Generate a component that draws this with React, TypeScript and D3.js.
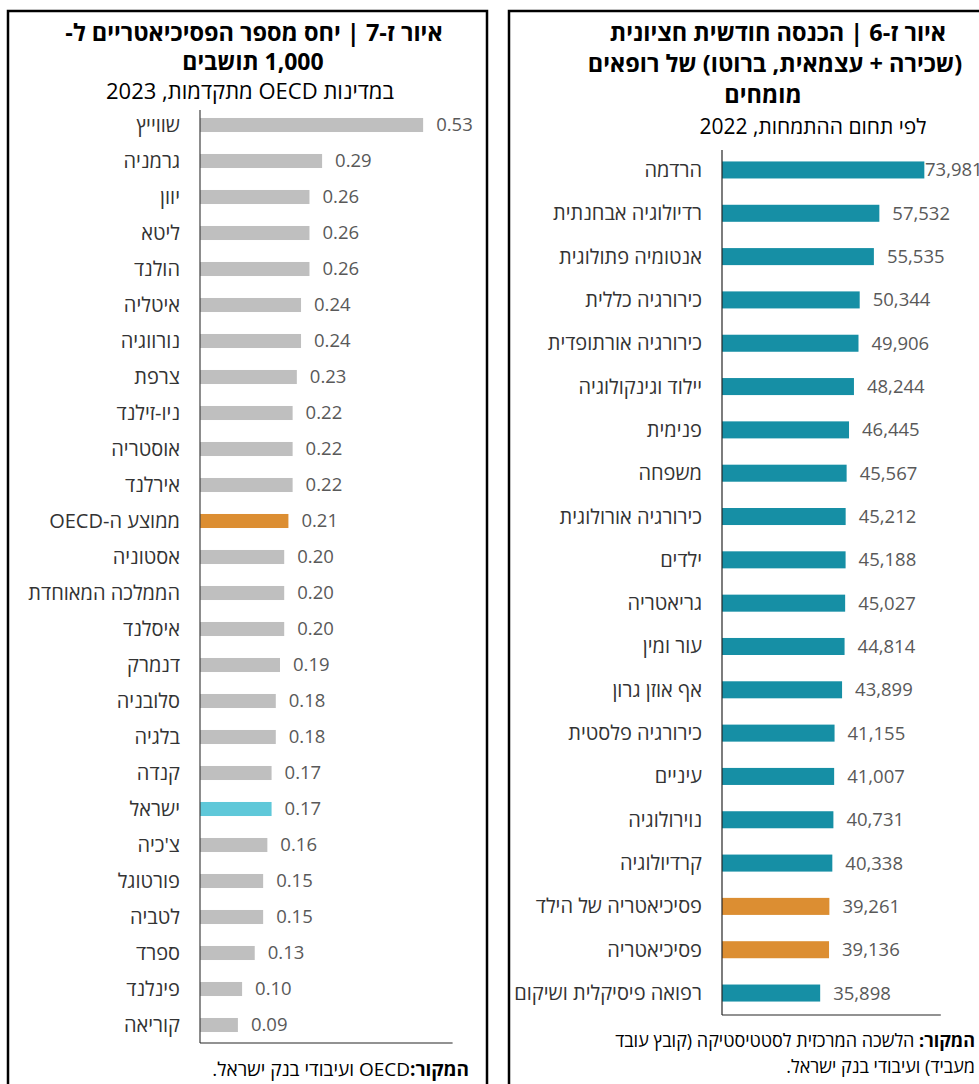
import React from "react";
import * as d3 from "d3";

// ---------- Data: Figure ז-7 (psychiatrists per 1,000 residents, OECD 2023)
const countries = [
  "שווייץ", "גרמניה", "יוון", "ליטא", "הולנד", "איטליה", "נורווגיה", "צרפת",
  "ניו-זילנד", "אוסטריה", "אירלנד", "ממוצע ה-OECD", "אסטוניה", "הממלכה המאוחדת",
  "איסלנד", "דנמרק", "סלובניה", "בלגיה", "קנדה", "ישראל", "צ'כיה", "פורטוגל",
  "לטביה", "ספרד", "פינלנד", "קוריאה",
];
const ratios = [
  0.53, 0.29, 0.26, 0.26, 0.26, 0.24, 0.24, 0.23, 0.22, 0.22, 0.22, 0.21, 0.2,
  0.2, 0.2, 0.19, 0.18, 0.18, 0.17, 0.17, 0.16, 0.15, 0.15, 0.13, 0.1, 0.09,
];
const oecdAverage = "ממוצע ה-OECD";
const israel = "ישראל";

// ---------- Data: Figure ז-6 (median monthly income of specialists, 2022)
const specialties = [
  "הרדמה", "רדיולוגיה אבחנתית", "אנטומיה פתולוגית", "כירורגיה כללית",
  "כירורגיה אורתופדית", "יילוד וגינקולוגיה", "פנימית", "משפחה",
  "כירורגיה אורולוגית", "ילדים", "גריאטריה", "עור ומין", "אף אוזן גרון",
  "כירורגיה פלסטית", "עיניים", "נוירולוגיה", "קרדיולוגיה",
  "פסיכיאטריה של הילד", "פסיכיאטריה", "רפואה פיסיקלית ושיקום",
];
const incomes = [
  73981, 57532, 55535, 50344, 49906, 48244, 46445, 45567, 45212, 45188, 45027,
  44814, 43899, 41155, 41007, 40731, 40338, 39261, 39136, 35898,
];
const psychiatrySpecialties = ["פסיכיאטריה של הילד", "פסיכיאטריה"];

const leftTitle = ["איור ז-7 | יחס  מספר הפסיכיאטריים ל-", "1,000 תושבים"];
const leftSubtitle = "במדינות OECD מתקדמות, 2023";
const rightTitle = [
  "איור ז-6 | הכנסה חודשית חציונית",
  "(שכירה + עצמאית, ברוטו) של רופאים",
  "מומחים",
];
const rightSubtitle = "לפי תחום ההתמחות, 2022";

const W = 979;
const H = 1084;
const BODY = "'Open Sans', 'Liberation Sans', 'DejaVu Sans', sans-serif";
const TITLE = "'Open Sans', 'Liberation Sans', sans-serif";

const GRAY = "#BFBFBF";
const ORANGE = "#DC8E32";
const LIGHTBLUE = "#5FC8D9";
const TEAL = "#168FA5";
const LABEL = "#333333";
const VALUE = "#595959";

export default function App() {
  const xL = d3.scaleLinear().domain([0, 0.6]).range([200, 452.6]);
  const yL = d3
    .scaleBand<string>()
    .domain(countries)
    .range([107, 1043])
    .paddingInner(0.61)
    .paddingOuter(0.305);

  const xR = d3.scaleLinear().domain([0, 80000]).range([722, 940.8]);
  const yR = d3
    .scaleBand<string>()
    .domain(specialties)
    .range([148.3, 1014.7])
    .paddingInner(0.607)
    .paddingOuter(0.3035);

  const fmtL = d3.format(".2f");
  const fmtR = d3.format(",");

  const colorL = (c: string) =>
    c === oecdAverage ? ORANGE : c === israel ? LIGHTBLUE : GRAY;
  const colorR = (c: string) =>
    psychiatrySpecialties.includes(c) ? ORANGE : TEAL;

  return (
    <svg
      width={W}
      height={H}
      viewBox={`0 0 ${W} ${H}`}
      style={{ position: "absolute", left: 0, top: 0, background: "#fff" }}
    >
      <rect x={0} y={0} width={W} height={H} fill="#fff" />

      {/* ---------- Left panel ---------- */}
      <rect x={8} y={11} width={479} height={1200} fill="none" stroke="#000" strokeWidth={2.5} />
      <text x={254} y={41} direction="rtl" textAnchor="middle" fontFamily={TITLE} fontWeight="bold" fontSize={23.5} fill="#000">
        {leftTitle[0]}
      </text>
      <text x={253} y={70} direction="rtl" textAnchor="middle" fontFamily={TITLE} fontWeight="bold" fontSize={23} fill="#000">
        {leftTitle[1]}
      </text>
      <text x={250} y={99} direction="rtl" textAnchor="middle" fontFamily={BODY} fontSize={22} fill="#000">
        {leftSubtitle}
      </text>

      {countries.map((c, i) => {
        const y = yL(c)!;
        const bw = yL.bandwidth();
        const cy = y + bw / 2;
        return (
          <g key={c}>
            <rect x={xL(0)} y={y} width={xL(ratios[i]) - xL(0)} height={bw} fill={colorL(c)} />
            <text x={180} y={cy} dy="0.35em" direction="rtl" textAnchor="start" fontFamily={BODY} fontSize={20} fill={LABEL}>
              {c}
            </text>
            <text x={xL(ratios[i]) + 13} y={cy} dy="0.35em" textAnchor="start" fontFamily={BODY} fontSize={18.5} fill={VALUE}>
              {fmtL(ratios[i])}
            </text>
          </g>
        );
      })}
      <line x1={xL(0)} x2={xL(0)} y1={110} y2={1043} stroke="#404040" strokeWidth={1.2} />
      <line x1={xL(0)} x2={xL.range()[1]} y1={1043} y2={1043} stroke="#262626" strokeWidth={1.2} />

      <text x={469} y={1076} direction="rtl" textAnchor="start" fontFamily={BODY} fontSize={19} fill="#000">
        <tspan fontWeight="bold">המקור:</tspan>
        <tspan>OECD ועיבודי בנק ישראל.</tspan>
      </text>

      {/* ---------- Right panel ---------- */}
      <rect x={509} y={11} width={600} height={1200} fill="none" stroke="#000" strokeWidth={2.5} />
      <text x={778} y={41} direction="rtl" textAnchor="middle" fontFamily={TITLE} fontWeight="bold" fontSize={23.5} fill="#000">
        {rightTitle[0]}
      </text>
      <text x={775} y={72} direction="rtl" textAnchor="middle" fontFamily={TITLE} fontWeight="bold" fontSize={23.5} fill="#000">
        {rightTitle[1]}
      </text>
      <text x={763} y={103} direction="rtl" textAnchor="middle" fontFamily={TITLE} fontWeight="bold" fontSize={23.5} fill="#000">
        {rightTitle[2]}
      </text>
      <text x={813} y={134} direction="rtl" textAnchor="middle" fontFamily={BODY} fontSize={21} fill="#000">
        {rightSubtitle}
      </text>

      {specialties.map((c, i) => {
        const y = yR(c)!;
        const bw = yR.bandwidth();
        const cy = y + bw / 2;
        const end = xR(incomes[i]);
        return (
          <g key={c}>
            <rect x={xR(0)} y={y} width={end - xR(0)} height={bw} fill={colorR(c)} />
            <text x={702} y={cy} dy="0.35em" direction="rtl" textAnchor="start" fontFamily={BODY} fontSize={20} fill={LABEL}>
              {c}
            </text>
            <text x={Math.min(end + 13, 925)} y={cy} dy="0.35em" textAnchor="start" fontFamily={BODY} fontSize={18.5} fill={VALUE}>
              {fmtR(incomes[i])}
            </text>
          </g>
        );
      })}
      <line x1={xR(0)} x2={xR(0)} y1={150} y2={1015} stroke="#262626" strokeWidth={1.2} />
      <line x1={xR(0)} x2={xR.range()[1]} y1={1015} y2={1015} stroke="#262626" strokeWidth={1.2} />

      <text x={975} y={1047} direction="rtl" textAnchor="start" fontFamily={BODY} fontSize={18} fill="#000">
        <tspan fontWeight="bold">המקור:</tspan>
        <tspan> הלשכה המרכזית לסטטיסטיקה (קובץ עובד</tspan>
      </text>
      <text x={975} y={1073} direction="rtl" textAnchor="start" fontFamily={BODY} fontSize={18} fill="#000">
        מעביד) ועיבודי בנק ישראל.
      </text>
    </svg>
  );
}
